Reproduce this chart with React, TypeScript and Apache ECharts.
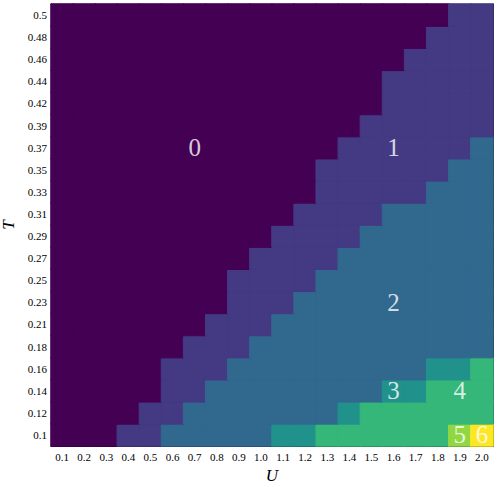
import React, { useEffect, useRef } from "react";
import * as echarts from "echarts";

const uLabels = ["0.1","0.2","0.3","0.4","0.5","0.6","0.7","0.8","0.9","1.0","1.1","1.2","1.3","1.4","1.5","1.6","1.7","1.8","1.9","2.0"];
const tLabels = ["0.1","0.12","0.14","0.16","0.18","0.21","0.23","0.25","0.27","0.29","0.31","0.33","0.35","0.37","0.39","0.42","0.44","0.46","0.48","0.5"];

// phase value per T row (bottom to top), per U column (left to right)
const phaseRows: number[][] = [
  [0,0,0,1,1,2,2,2,2,2,3,3,4,4,4,4,4,4,5,6],
  [0,0,0,0,1,1,2,2,2,2,2,2,2,3,4,4,4,4,4,4],
  [0,0,0,0,0,1,1,2,2,2,2,2,2,2,2,3,3,4,4,4],
  [0,0,0,0,0,1,1,1,2,2,2,2,2,2,2,2,2,3,3,4],
  [0,0,0,0,0,0,1,1,1,2,2,2,2,2,2,2,2,2,2,2],
  [0,0,0,0,0,0,0,1,1,1,2,2,2,2,2,2,2,2,2,2],
  [0,0,0,0,0,0,0,0,1,1,1,2,2,2,2,2,2,2,2,2],
  [0,0,0,0,0,0,0,0,1,1,1,1,2,2,2,2,2,2,2,2],
  [0,0,0,0,0,0,0,0,0,1,1,1,1,2,2,2,2,2,2,2],
  [0,0,0,0,0,0,0,0,0,0,1,1,1,1,2,2,2,2,2,2],
  [0,0,0,0,0,0,0,0,0,0,0,1,1,1,1,2,2,2,2,2],
  [0,0,0,0,0,0,0,0,0,0,0,0,1,1,1,1,1,2,2,2],
  [0,0,0,0,0,0,0,0,0,0,0,0,1,1,1,1,1,1,2,2],
  [0,0,0,0,0,0,0,0,0,0,0,0,0,1,1,1,1,1,1,2],
  [0,0,0,0,0,0,0,0,0,0,0,0,0,0,1,1,1,1,1,1],
  [0,0,0,0,0,0,0,0,0,0,0,0,0,0,0,1,1,1,1,1],
  [0,0,0,0,0,0,0,0,0,0,0,0,0,0,0,1,1,1,1,1],
  [0,0,0,0,0,0,0,0,0,0,0,0,0,0,0,0,1,1,1,1],
  [0,0,0,0,0,0,0,0,0,0,0,0,0,0,0,0,0,1,1,1],
  [0,0,0,0,0,0,0,0,0,0,0,0,0,0,0,0,0,0,1,1],
];

const annotationText = ["0", "1", "2", "3", "4", "5", "6"];
const annotationU = ["0.7", "1.6", "1.6", "1.6", "1.9", "1.9", "2.0"];
const annotationT = ["0.37", "0.37", "0.23", "0.14", "0.14", "0.1", "0.1"];

const viridis7 = ["#440154", "#443983", "#31688e", "#21918c", "#35b779", "#90d743", "#fde725"];

const FONT = "Liberation Serif, DejaVu Serif, serif";

function minorTicks(n: number): number[] {
  const out: number[] = [];
  for (let i = -1; i < n; i++) {
    for (let k = 1; k <= 4; k++) {
      const v = Math.round((i + 0.2 * k) * 100) / 100;
      if (v > -0.5 && v < n - 0.5) out.push(v);
    }
  }
  return out;
}

export default function App() {
  const ref = useRef<HTMLDivElement>(null);
  useEffect(() => {
    if (!ref.current) return;
    const chart = echarts.init(ref.current, null, { renderer: "svg" });
    const heat: any[] = [];
    phaseRows.forEach((row, j) =>
      row.forEach((v, i) =>
        heat.push({
          value: [i, j, v],
          itemStyle: { borderColor: viridis7[v], borderWidth: 1 },
        })
      )
    );
    const notes = annotationText.map((txt, k) => ({
      value: [annotationU[k], annotationT[k]],
      label: { formatter: txt },
    }));
    const nx = uLabels.length;
    const ny = tLabels.length;
    const lineStyle = { color: "#000", width: 1 };
    const catAxisCommon = (data: string[]) => ({
      type: "category" as const,
      data,
      boundaryGap: true,
      axisLine: { show: true, onZero: false, lineStyle },
      axisTick: { show: true, inside: true, alignWithLabel: true, length: 4, interval: 0, lineStyle },
      splitLine: { show: false },
      splitArea: { show: false },
    });
    const minorAxis = (n: number, position: string) => ({
      type: "value" as const,
      min: -0.5,
      max: n - 0.5,
      position,
      axisLine: { show: false },
      axisLabel: { show: false },
      splitLine: { show: false },
      splitArea: { show: false },
      axisTick: { show: true, inside: true, length: 2, customValues: minorTicks(n), lineStyle },
    });
    chart.setOption({
      animation: false,
      textStyle: { fontFamily: FONT },
      grid: { left: 51, top: 4, width: 442, height: 442, containLabel: false, outerBoundsMode: "none" },
      xAxis: [
        {
          ...catAxisCommon(uLabels),
          position: "bottom",
          axisLabel: { show: true, interval: 0, color: "#000", fontSize: 11, fontFamily: FONT, margin: 5 },
          name: "U",
          nameLocation: "middle",
          nameGap: 19,
          nameTextStyle: { fontSize: 17, fontStyle: "italic", fontFamily: FONT, color: "#000", verticalAlign: "top" },
        },
        { ...catAxisCommon(uLabels), position: "top", axisLabel: { show: false } },
        minorAxis(nx, "bottom"),
        minorAxis(nx, "top"),
      ],
      yAxis: [
        {
          ...catAxisCommon(tLabels),
          position: "left",
          axisLabel: { show: true, interval: 0, color: "#000", fontSize: 11, fontFamily: FONT, margin: 4 },
          name: "T",
          nameLocation: "middle",
          nameGap: 34,
          nameRotate: 90,
          nameTextStyle: { fontSize: 17, fontStyle: "italic", fontFamily: FONT, color: "#000" },
        },
        { ...catAxisCommon(tLabels), position: "right", axisLabel: { show: false } },
        minorAxis(ny, "left"),
        minorAxis(ny, "right"),
      ],
      visualMap: {
        show: false,
        type: "continuous",
        min: 0,
        max: 6,
        seriesIndex: 0,
        inRange: { color: viridis7 },
      },
      series: [
        {
          type: "heatmap",
          xAxisIndex: 0,
          yAxisIndex: 0,
          data: heat,
          emphasis: { disabled: true },
          z: 1,
        },
        {
          type: "scatter",
          xAxisIndex: 0,
          yAxisIndex: 0,
          symbolSize: 0,
          data: notes,
          z: 5,
          label: {
            show: true,
            position: "inside",
            color: "#fff",
            fontSize: 25,
            fontFamily: FONT,
          },
          emphasis: { disabled: true },
        },
      ],
    });
    return () => chart.dispose();
  }, []);
  return (
    <div
      ref={ref}
      style={{ position: "fixed", left: 0, top: 0, width: 498, height: 487, background: "#fff" }}
    />
  );
}
